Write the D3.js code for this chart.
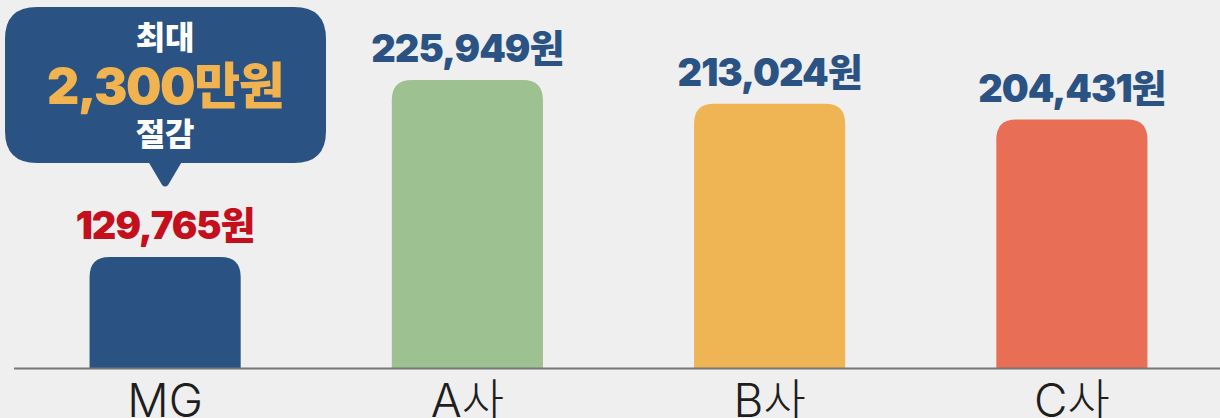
<!DOCTYPE html>
<html>
<head>
<meta charset="utf-8">
<script src="https://cdn.jsdelivr.net/npm/d3@7"></script>
<style>
  html, body { margin: 0; padding: 0; background: #efefef; }
  svg { display: block; font-family: Inter, "Noto Sans CJK KR", "Noto Sans", sans-serif; }
</style>
</head>
<body>
<svg id="chart"></svg>
<script>
// 화면 크기
var w = 1220;
var h = 418;

// 데이터
var companies = ["MG", "A사", "B사", "C사"];
var premiums = [129765, 225949, 213024, 204431];
var barColors = ["#2a5384", "#9dc191", "#efb454", "#e86e55"];
var labelColors = ["#c4101c", "#2a5384", "#2a5384", "#2a5384"];
var calloutLines = ["최대", "2,300만원", "절감"];

var data = companies.map(function (c, i) {
  return { name: c, value: premiums[i], color: barColors[i], labelColor: labelColors[i] };
});

var baseY = 368;

var svg = d3.select("#chart").attr("width", w).attr("height", h);

svg.append("rect").attr("width", w).attr("height", h).attr("fill", "#efefef");

var x = d3.scaleBand()
  .domain(companies)
  .range([14, 1223])
  .paddingInner(0.5)
  .paddingOuter(0.25);

// 축이 0에서 시작하지 않음
var y = d3.scaleLinear()
  .domain([69450, 225949])
  .range([baseY, 80]);

var r = 20;
function barPath(d) {
  var x0 = x(d.name), x1 = x0 + x.bandwidth(), top = y(d.value);
  return "M" + x0 + "," + baseY +
    "V" + (top + r) +
    "Q" + x0 + "," + top + " " + (x0 + r) + "," + top +
    "H" + (x1 - r) +
    "Q" + x1 + "," + top + " " + x1 + "," + (top + r) +
    "V" + baseY + "Z";
}

svg.selectAll("path.bar")
  .data(data)
  .enter()
  .append("path")
  .attr("class", "bar")
  .attr("d", barPath)
  .attr("fill", d => d.color);

// 기준선
svg.append("line")
  .attr("x1", 14).attr("x2", w)
  .attr("y1", baseY + 0.5).attr("y2", baseY + 0.5)
  .attr("stroke", "#777")
  .attr("stroke-width", 2);

var fmt = d3.format(",");
svg.selectAll("text.value")
  .data(data)
  .enter()
  .append("text")
  .attr("class", "value")
  .attr("x", d => x(d.name) + x.bandwidth() / 2)
  .attr("y", d => y(d.value) - 18)
  .attr("text-anchor", "middle")
  .style("font-size", "38px")
  .style("font-weight", 900)
  .style("letter-spacing", "-1px")
  .attr("fill", d => d.labelColor)
  .text(d => fmt(d.value) + "원");

// x축 라벨 (원본처럼 아래쪽이 잘림)
svg.selectAll("text.cat")
  .data(data)
  .enter()
  .append("text")
  .attr("class", "cat")
  .attr("x", d => x(d.name) + x.bandwidth() / 2)
  .attr("y", 417)
  .attr("text-anchor", "middle")
  .style("font-size", "46px")
  .style("font-weight", 300)
  .attr("fill", "#1e1e1e")
  .text(d => d.name);

// 말풍선
var cx = x("MG") + x.bandwidth() / 2;
var bx0 = 5, bx1 = 326, by0 = 7, by1 = 163, br = 32;
var bubble = d3.path();
bubble.moveTo(bx0 + br, by0);
bubble.lineTo(bx1 - br, by0);
bubble.quadraticCurveTo(bx1, by0, bx1, by0 + br);
bubble.lineTo(bx1, by1 - br);
bubble.quadraticCurveTo(bx1, by1, bx1 - br, by1);
bubble.lineTo(cx + 16, by1);
bubble.lineTo(cx + 3, by1 + 22);
bubble.quadraticCurveTo(cx, by1 + 25, cx - 3, by1 + 22);
bubble.lineTo(cx - 16, by1);
bubble.lineTo(bx0 + br, by1);
bubble.quadraticCurveTo(bx0, by1, bx0, by1 - br);
bubble.lineTo(bx0, by0 + br);
bubble.quadraticCurveTo(bx0, by0, bx0 + br, by0);
bubble.closePath();

svg.append("path").attr("d", bubble.toString()).attr("fill", "#2a5384");

svg.append("text")
  .attr("x", cx).attr("y", 49)
  .attr("text-anchor", "middle")
  .style("font-size", "32px").style("font-weight", 900)
  .attr("fill", "#fff")
  .text(calloutLines[0]);

svg.append("text")
  .attr("x", cx).attr("y", 104)
  .attr("text-anchor", "middle")
  .style("font-size", "50px").style("font-weight", 900)
  .style("letter-spacing", "-1.5px")
  .attr("fill", "#f0b34f")
  .text(calloutLines[1]);

svg.append("text")
  .attr("x", cx).attr("y", 146)
  .attr("text-anchor", "middle")
  .style("font-size", "32px").style("font-weight", 900)
  .attr("fill", "#fff")
  .text(calloutLines[2]);
</script>
</body>
</html>
